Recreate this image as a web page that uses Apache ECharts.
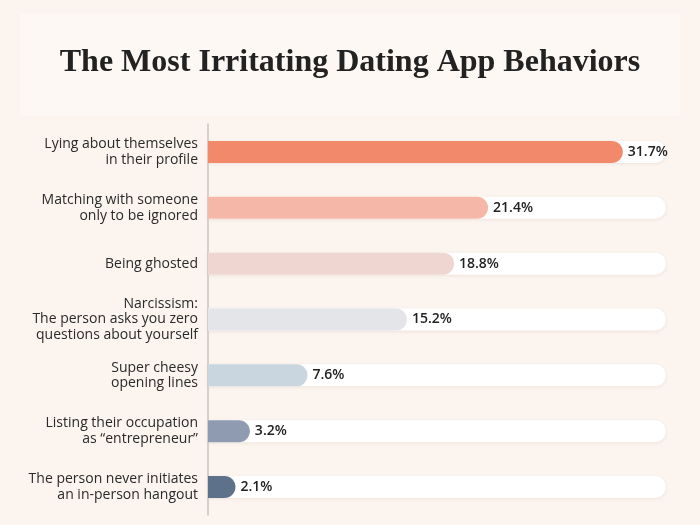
<!DOCTYPE html>
<html>
<head>
<meta charset="utf-8">
<script src="https://cdn.jsdelivr.net/npm/echarts@6/dist/echarts.min.js"></script>
<style>
html,body{margin:0;padding:0;background:#fbf4ef;}
#chart{width:700px;height:525px;}
</style>
</head>
<body>
<div id="chart"></div>
<script>
const categories = [
  "Lying about themselves\nin their profile",
  "Matching with someone\nonly to be ignored",
  "Being ghosted",
  "Narcissism:\nThe person asks you zero\nquestions about yourself",
  "Super cheesy\nopening lines",
  "Listing their occupation\nas \u201centrepreneur\u201d",
  "The person never initiates\nan in-person hangout"
];
const values = [31.7, 21.4, 18.8, 15.2, 7.6, 3.2, 2.1];
const barColors = ["#f2896b", "#f5b8a8", "#efd6d0", "#e3e5e8", "#c9d6df", "#8f9bb1", "#5e718a"];
const axisMax = 35;
const trackValues = categories.map(() => axisMax);

const chart = echarts.init(document.getElementById('chart'), null, {renderer: 'canvas'});
chart.setOption({
  backgroundColor: '#fbf4ef',
  animation: false,
  graphic: [{
    type: 'rect', left: 20, top: 14, z: -1,
    shape: {width: 660, height: 102},
    style: {fill: '#fdf8f4'}
  }],
  title: {
    text: 'The Most Irritating Dating App Behaviors',
    left: 'center', top: 42,
    textStyle: {fontFamily: 'Liberation Serif', fontWeight: 'bold', fontSize: 32, color: '#222'}
  },
  grid: {left: 208, right: 34, top: 124, bottom: 10},
  xAxis: {
    type: 'value', min: 0, max: axisMax, show: false
  },
  yAxis: {
    type: 'category', inverse: true, data: categories,
    axisLine: {show: true, lineStyle: {color: '#c9c4c1', width: 1.5}},
    axisTick: {show: false},
    axisLabel: {
      fontFamily: 'Open Sans', fontSize: 14, color: '#2a2a2a', align: 'right',
      margin: 10, lineHeight: 15.5
    }
  },
  series: [
    {
      type: 'bar', data: trackValues, barWidth: 22, silent: true, z: 1,
      itemStyle: {
        color: '#ffffff', borderRadius: [0, 11, 11, 0],
        shadowColor: 'rgba(200,170,160,0.25)', shadowBlur: 3, shadowOffsetY: 1
      }
    },
    {
      type: 'bar', data: values.map((v, i) => ({value: v, itemStyle: {color: barColors[i]}})),
      barWidth: 22, barGap: '-100%', z: 2,
      itemStyle: {borderRadius: [0, 11, 11, 0]},
      label: {
        show: true, position: 'right', distance: 5,
        formatter: p => p.value + '%',
        fontFamily: 'Open Sans', fontWeight: 600, fontSize: 14, color: '#222'
      }
    }
  ]
});
</script>
</body>
</html>
